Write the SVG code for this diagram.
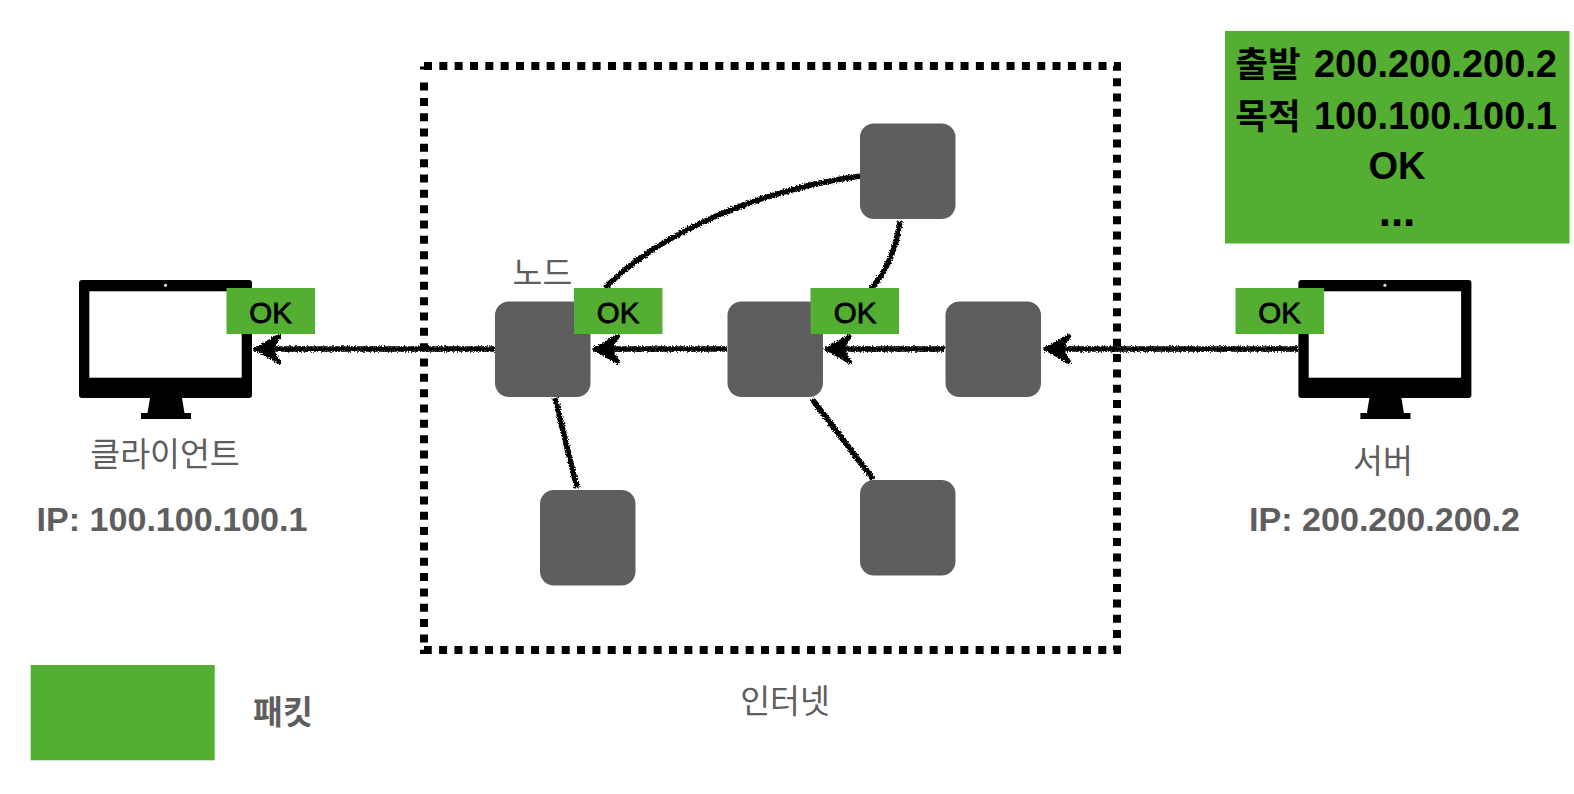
<svg xmlns="http://www.w3.org/2000/svg" width="1574" height="794" viewBox="0 0 1574 794">
<style>
text{font-family:"Liberation Sans","Noto Sans CJK KR",sans-serif;text-anchor:middle}
.g{fill:#5e5e5e}.k{fill:#000}.b{font-weight:700}
.lbl{font-size:32.500px}.ip{font-size:34.100px;font-weight:700}
.ok{font-size:29.500px;stroke:#000;stroke-width:.8}
.big{font-size:38px;font-weight:700}.hb{font-size:35.500px;font-weight:700}
.pkt{fill:#53ae32}.node{fill:#5e5e5e}
.wire{fill:none;stroke:#000;stroke-width:5.500}
</style>
<defs>
<filter id="rough" x="-5%" y="-20%" width="110%" height="140%" filterUnits="objectBoundingBox">
<feTurbulence type="fractalNoise" baseFrequency="0.7" numOctaves="2" seed="4"/>
<feDisplacementMap in="SourceGraphic" scale="4.500" xChannelSelector="R" yChannelSelector="G"/>
</filter>
<marker id="arrow" markerUnits="userSpaceOnUse" markerWidth="36" markerHeight="40" refX="33" refY="20" orient="auto" viewBox="0 0 36 40">
<path d="M31 20L7 6L16 20L7 34Z" fill="#000" stroke="#000" stroke-width="3.500" stroke-linejoin="miter"/>
</marker>
<g id="monitor">
<path d="M82 280H249a3 3 0 0 1 3 3V395a3 3 0 0 1-3 3H182L184.500 413H191V419H141V413H147.500L150 398H82a3 3 0 0 1-3-3V283a3 3 0 0 1 3-3Z" fill="#000"/>
<rect x="89.300" y="291.300" width="152.400" height="86.400" fill="#fff"/>
<circle cx="165.500" cy="285.200" r="1.500" fill="#fff"/>
</g>
</defs>
<g id="connectors" filter="url(#rough)">
<path class="wire" d="M1298 349H1044" marker-end="url(#arrow)"/>
<path class="wire" d="M945 349H825" marker-end="url(#arrow)"/>
<path class="wire" d="M727 349H593" marker-end="url(#arrow)"/>
<path class="wire" d="M495 349H254" marker-end="url(#arrow)"/>
<path class="wire" d="M860 176C760 190 660 232 605 288"/>
<path class="wire" d="M900 221C896 250 885 275 868 292"/>
<path class="wire" d="M555 398L577 488"/>
<path class="wire" d="M812 399L873 479"/>
</g>
<g id="internet">
<path d="M424 66H1117V650H424V77" fill="none" stroke="#000" stroke-width="8" stroke-dasharray="8 7.330"/>
<path d="M420 68H424" stroke="#000" stroke-width="3"/>
<text class="lbl g" x="785" y="713">인터넷</text>
</g>
<g id="client">
<use href="#monitor"/>
<rect class="pkt" x="226.500" y="288" width="88.500" height="46"/>
<text class="ok k" x="270.500" y="322.700">OK</text>
<text class="lbl g" x="165" y="466">클라이언트</text>
<text class="ip g" x="172" y="531">IP: 100.100.100.1</text>
</g>
<g id="server">
<use href="#monitor" x="1219.400"/>
<rect class="pkt" x="1235.500" y="288" width="88.500" height="46"/>
<text class="ok k" x="1279.500" y="322.700">OK</text>
<text class="lbl g" x="1383" y="473">서버</text>
<text class="ip g" x="1384.500" y="530.500">IP: 200.200.200.2</text>
</g>
<g id="node-top"><rect class="node" x="860" y="123.500" width="95.500" height="95.500" rx="14"/></g>
<g id="node-1">
<rect class="node" x="495" y="301.500" width="95.500" height="95.500" rx="14"/>
<text class="lbl g" x="542.500" y="285">노드</text>
<rect class="pkt" x="574" y="288" width="88.500" height="46"/>
<text class="ok k" x="618" y="322.700">OK</text>
</g>
<g id="node-2">
<rect class="node" x="727.500" y="301.500" width="95.500" height="95.500" rx="14"/>
<rect class="pkt" x="810.500" y="288" width="88.500" height="46"/>
<text class="ok k" x="855" y="322.700">OK</text>
</g>
<g id="node-3"><rect class="node" x="945.500" y="301.500" width="95.500" height="95.500" rx="14"/></g>
<g id="node-bottom-left"><rect class="node" x="540" y="490" width="95.500" height="95.500" rx="14"/></g>
<g id="node-bottom-right"><rect class="node" x="860" y="480" width="95.500" height="95.500" rx="14"/></g>
<g id="packet-detail">
<rect class="pkt" x="1225" y="31" width="344.500" height="212.500"/>
<text class="hb k" x="1268" y="77">출발</text>
<text class="big k" x="1435.500" y="76.700">200.200.200.2</text>
<text class="hb k" x="1268" y="129">목적</text>
<text class="big k" x="1435.500" y="129">100.100.100.1</text>
<text class="big k" x="1397" y="179">OK</text>
<text class="k b" style="font-size:44px" x="1397" y="226">...</text>
</g>
<g id="legend">
<rect class="pkt" x="30.700" y="665" width="184" height="95.300"/>
<text class="b g" style="font-size:32.500px" x="283" y="723.500">패킷</text>
</g>
</svg>
